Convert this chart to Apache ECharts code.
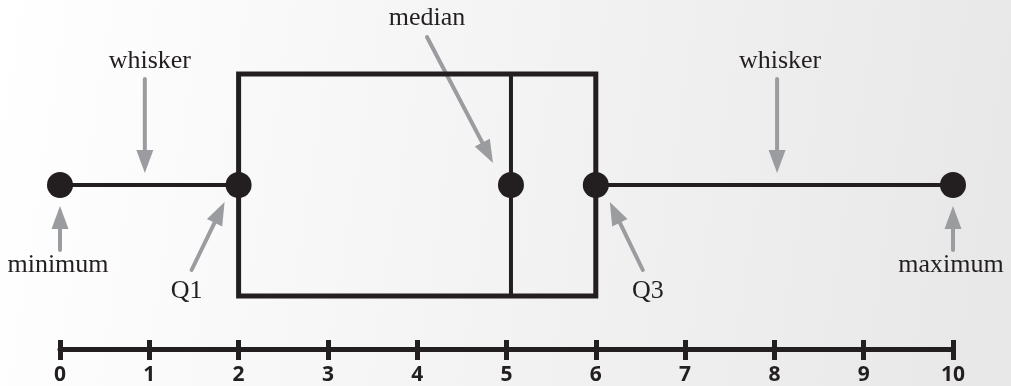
<!DOCTYPE html>
<html>
<head>
<meta charset="utf-8">
<script src="https://cdn.jsdelivr.net/npm/echarts@6/dist/echarts.min.js"></script>
<style>
  html, body { margin: 0; padding: 0; }
  #chart { width: 1011px; height: 386px; }
</style>
</head>
<body>
<div id="chart"></div>
<script>
// Axis ticks and five-number summary
const tickValues = [0, 1, 2, 3, 4, 5, 6, 7, 8, 9, 10]
const fiveNumber = [0, 2, 5.05, 6, 10] // min, Q1, median, Q3, max
const whiskerMid = [0.95, 8.03]        // where the "whisker" arrows point

const dark = '#231f20'
const grey = '#9b9c9f'
const serif = '"Liberation Serif", "DejaVu Serif", serif'

const chart = echarts.init(document.getElementById('chart'))

chart.setOption({
  animation: false,
  backgroundColor: new echarts.graphic.LinearGradient(0, 0, 1, 0.4, [
    { offset: 0, color: '#ffffff' },
    { offset: 1, color: '#e8e8e8' }
  ]),
  grid: [
    { left: 60, right: 58, top: 74, bottom: 90 },   // box plot
    { left: 60, right: 58, top: 340, bottom: 35 }   // number line
  ],
  xAxis: [
    { gridIndex: 0, type: 'value', min: 0, max: 10, show: false },
    {
      gridIndex: 1,
      type: 'value',
      min: tickValues[0],
      max: tickValues[tickValues.length - 1],
      interval: 1,
      axisLine: { lineStyle: { color: dark, width: 5 } },
      axisTick: { length: 11, lineStyle: { color: dark, width: 5 } },
      splitLine: { show: true, lineStyle: { color: dark, width: 5 } },
      axisLabel: {
        margin: 16,
        color: dark,
        fontFamily: '"Open Sans", sans-serif',
        fontWeight: 'bold',
        fontSize: 21
      }
    }
  ],
  yAxis: [
    { gridIndex: 0, type: 'value', min: 0, max: 1, show: false },
    { gridIndex: 1, type: 'value', min: 0, max: 1, show: false }
  ],
  series: [
    {
      type: 'custom',
      xAxisIndex: 0,
      yAxisIndex: 0,
      data: [fiveNumber],
      renderItem: (params, api) => {
        const mn = api.value(0), q1 = api.value(1), md = api.value(2)
        const q3 = api.value(3), mx = api.value(4)
        const tl = api.coord([q1, 1])
        const br = api.coord([q3, 0])
        const mTop = api.coord([md, 1])
        const mBot = api.coord([md, 0])
        const a = api.coord([mn, 0.5]), b = api.coord([q1, 0.5])
        const c = api.coord([q3, 0.5]), d = api.coord([mx, 0.5])
        return {
          type: 'group',
          children: [
            { type: 'rect', shape: { x: tl[0], y: tl[1], width: br[0] - tl[0], height: br[1] - tl[1] },
              style: { fill: 'none', stroke: dark, lineWidth: 5 } },
            { type: 'line', shape: { x1: mTop[0], y1: mTop[1], x2: mBot[0], y2: mBot[1] },
              style: { stroke: dark, lineWidth: 4 } },
            { type: 'line', shape: { x1: a[0], y1: a[1], x2: b[0], y2: b[1] },
              style: { stroke: dark, lineWidth: 4 } },
            { type: 'line', shape: { x1: c[0], y1: c[1], x2: d[0], y2: d[1] },
              style: { stroke: dark, lineWidth: 4 } }
          ]
        }
      }
    },
    {
      type: 'scatter',
      xAxisIndex: 0,
      yAxisIndex: 0,
      symbolSize: 26,
      itemStyle: { color: dark, opacity: 1 },
      data: fiveNumber.map(v => [v, 0.5]),
      z: 5
    }
  ]
})

// Annotation arrows and labels, anchored on the data points
const px = v => chart.convertToPixel({ xAxisIndex: 0 }, v)

const arrow = (x1, y1, x2, y2) => {
  const len = Math.hypot(x2 - x1, y2 - y1)
  const ux = (x2 - x1) / len, uy = (y2 - y1) / len
  const headLen = 23, half = 8.5
  const bx = x2 - ux * headLen, by = y2 - uy * headLen
  return [
    { type: 'line', shape: { x1, y1, x2: bx + ux * 2, y2: by + uy * 2 },
      style: { stroke: grey, lineWidth: 4, lineCap: 'round' } },
    { type: 'polygon',
      shape: { points: [[x2, y2], [bx - uy * half, by + ux * half], [bx + uy * half, by - ux * half]] },
      style: { fill: grey } }
  ]
}

const label = (text, x, y) => ({
  type: 'text',
  x, y,
  style: { text, fill: dark, font: '26px ' + serif, align: 'center', verticalAlign: 'middle' }
})

const [mn, q1, md, q3, mx] = fiveNumber.map(px)
const wl = px(whiskerMid[0]), wr = px(whiskerMid[1])

chart.setOption({
  graphic: [
    ...arrow(wl, 79, wl, 173),
    ...arrow(wr, 79, wr, 173),
    ...arrow(md - 84, 37, md - 18, 163),
    ...arrow(mn, 250, mn, 206),
    ...arrow(mx, 250, mx, 206),
    ...arrow(q1 - 47, 270, q1 - 14, 202),
    ...arrow(q3 + 47, 270, q3 + 14, 202),
    label('whisker', wl + 5, 61),
    label('whisker', wr + 3, 61),
    label('median', md - 84, 18),
    label('minimum', mn - 2, 265),
    label('maximum', mx - 2, 265),
    label('Q1', q1 - 52, 291),
    label('Q3', q3 + 52, 291)
  ]
})
</script>
</body>
</html>
